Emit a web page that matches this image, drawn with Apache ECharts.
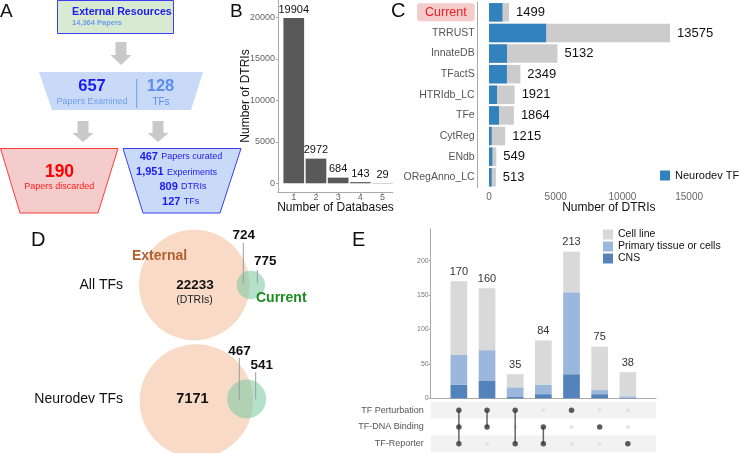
<!DOCTYPE html>
<html><head><meta charset="utf-8">
<script src="https://cdn.jsdelivr.net/npm/echarts@6/dist/echarts.min.js"></script>
<style>html,body{margin:0;padding:0;background:#fff}#c{width:740px;height:453px}</style>
</head><body><div id="c"></div>
<script>
// ---------- Panel A (flow) ----------
const flowSource = ['External Resources', '14,364 Papers'];
const examined = ['657', 'Papers Examined', '128', 'TFs'];
const discarded = ['190', 'Papers discarded'];
const curatedNums = ['467', '1,951', '809', '127'];
const curatedText = ['Papers curated', 'Experiments', 'DTRIs', 'TFs'];
// ---------- Panel B ----------
const dbCounts = [1, 2, 3, 4, 5];
const dbDTRIs = [19904, 2972, 684, 143, 29];
const bTicks = [0, 5000, 10000, 15000, 20000];
// ---------- Panel C ----------
const dbNames = ['Current', 'TRRUST', 'InnateDB', 'TFactS', 'HTRIdb_LC', 'TFe', 'CytReg', 'ENdb', 'ORegAnno_LC'];
const dbTotal = [1499, 13575, 5132, 2349, 1921, 1864, 1215, 549, 513];
const dbNeuro = [1008, 4280, 1350, 1340, 600, 750, 200, 250, 200];
const cTicks = [0, 5000, 10000, 15000];
// ---------- Panel D ----------
const vennRows = ['All TFs', 'Neurodev TFs'];
const vennExternal = ['22233', '7171'];
const vennOverlap = ['724', '467'];
const vennCurrentOnly = ['775', '541'];
// ---------- Panel E ----------
const evidenceSets = ['TF Perturbation', 'TF-DNA Binding', 'TF-Reporter'];
const comboNames = ['P+D+R', 'P+D', 'P+R', 'D+R', 'P', 'D', 'R'];
const combos = [[0, 1, 2], [0, 1], [0, 2], [1, 2], [0], [1], [2]];
const comboTotals = [170, 160, 35, 84, 213, 75, 38];
const cns = [20, 26, 2, 6, 35, 6, 1];
const primary = [43, 44, 14, 14, 119, 6, 2];
const cellLine = [107, 90, 19, 64, 59, 63, 35];
const eTicks = [0, 50, 100, 150, 200];

const FF = '"Liberation Sans", Arial, Helvetica, sans-serif';
function txt(x, y, text, size, color, opts) {
  opts = opts || {};
  return {
    type: 'text', silent: true, z: 10,
    style: {
      x: x, y: y, text: text, fill: color,
      font: (opts.bold ? 'bold ' : '') + size + 'px ' + FF,
      align: opts.align || 'center', verticalAlign: 'middle',
      textAlign: opts.align || 'center', textVerticalAlign: 'middle'
    }
  };
}
function arrow(cx, y0, y1, yh) {
  return {
    type: 'polygon', silent: true,
    shape: { points: [[cx - 5.5, y0], [cx + 5.5, y0], [cx + 5.5, yh], [cx + 10.5, yh], [cx, y1], [cx - 10.5, yh], [cx - 5.5, yh]] },
    style: { fill: '#c9c9c9' }
  };
}
function richLine(x, y, num, label) {
  return {
    type: 'text', silent: true, z: 10,
    style: {
      x: x, y: y, text: '{b|' + num + '} {n|' + label + '}',
      align: 'center', verticalAlign: 'middle', textAlign: 'center', textVerticalAlign: 'middle',
      rich: {
        b: { fontWeight: 'bold', fontSize: 11, fontFamily: FF, fill: '#1c1cf0', color: '#1c1cf0' },
        n: { fontSize: 9, fontFamily: FF, fill: '#1c1cf0', color: '#1c1cf0' }
      }
    }
  };
}

const graphics = [
  txt(0, 12, 'A', 19, '#111', { align: 'left' }),
  txt(230, 12, 'B', 19, '#111', { align: 'left' }),
  txt(391, 11, 'C', 20, '#111', { align: 'left' }),
  txt(31, 240, 'D', 20, '#111', { align: 'left' }),
  txt(352, 240, 'E', 20, '#111', { align: 'left' }),
  // Panel A
  { type: 'rect', silent: true, shape: { x: 57.5, y: 0.5, width: 116, height: 33 }, style: { fill: '#d9ead3', stroke: '#3c3cf5', lineWidth: 1 } },
  txt(72, 12.5, flowSource[0], 10.7, '#1c1cf0', { bold: true, align: 'left' }),
  txt(72, 22.8, flowSource[1], 7.5, '#6d9eeb', { bold: true, align: 'left' }),
  arrow(121, 42, 65, 55),
  { type: 'polygon', silent: true, shape: { points: [[39, 72], [203, 72], [191, 110], [52, 110]] }, style: { fill: '#c9daf8' } },
  txt(92, 86, examined[0], 16.5, '#1c1cf0', { bold: true }),
  txt(92, 101.7, examined[1], 9, '#6d9eeb'),
  { type: 'line', silent: true, shape: { x1: 136.7, y1: 79, x2: 136.7, y2: 108 }, style: { stroke: '#6d9eeb', lineWidth: 1 } },
  txt(160.5, 86, examined[2], 16.5, '#5b8def', { bold: true }),
  txt(161, 102, examined[3], 10, '#5b8def'),
  arrow(83, 121, 142, 133),
  arrow(158, 121, 142, 133),
  { type: 'polygon', silent: true, shape: { points: [[0.5, 148.5], [118, 148.5], [98, 213], [20, 213]] }, style: { fill: '#f4cccc', stroke: '#ff3b3b', lineWidth: 1 } },
  txt(59.5, 171.7, discarded[0], 17.5, '#ff0000', { bold: true }),
  txt(59.2, 187, discarded[1], 9, '#ff2020'),
  { type: 'polygon', silent: true, shape: { points: [[123, 148.5], [241, 148.5], [220, 213], [143, 213]] }, style: { fill: '#c9daf8', stroke: '#3c3cf5', lineWidth: 1 } },
  richLine(181, 157, curatedNums[0], curatedText[0]),
  richLine(176.5, 172.3, curatedNums[1], curatedText[1]),
  richLine(183, 187, curatedNums[2], curatedText[2]),
  richLine(180.7, 201.7, curatedNums[3], curatedText[3]),
  // Panel D
  { type: 'circle', silent: true, shape: { cx: 194.3, cy: 285, r: 55.3 }, style: { fill: '#f9dac7' } },
  { type: 'circle', silent: true, shape: { cx: 250.8, cy: 285, r: 14.2 }, style: { fill: 'rgba(120,200,160,0.55)' } },
  { type: 'circle', silent: true, shape: { cx: 196.3, cy: 401, r: 56.7 }, style: { fill: '#f9dac7' } },
  { type: 'circle', silent: true, shape: { cx: 246.7, cy: 399, r: 19.5 }, style: { fill: 'rgba(120,200,160,0.55)' } },
  txt(123, 285, vennRows[0], 14, '#111', { align: 'right' }),
  txt(123, 399, vennRows[1], 14, '#111', { align: 'right' }),
  txt(159.5, 256, 'External', 14, '#b0602e', { bold: true }),
  txt(256, 298, 'Current', 14, '#1e8b1e', { bold: true, align: 'left' }),
  txt(195, 285, vennExternal[0], 13.5, '#111', { bold: true }),
  txt(194.5, 300, '(DTRIs)', 10.5, '#222'),
  txt(192.5, 399, vennExternal[1], 14.5, '#111', { bold: true }),
  { type: 'line', silent: true, shape: { x1: 243.3, y1: 243, x2: 243.3, y2: 283.3 }, style: { stroke: '#9a9a9a', lineWidth: 1 } },
  { type: 'line', silent: true, shape: { x1: 257.3, y1: 270, x2: 257.3, y2: 283.3 }, style: { stroke: '#9a9a9a', lineWidth: 1 } },
  { type: 'line', silent: true, shape: { x1: 239.3, y1: 358, x2: 239.3, y2: 400 }, style: { stroke: '#9a9a9a', lineWidth: 1 } },
  { type: 'line', silent: true, shape: { x1: 255.7, y1: 372, x2: 255.7, y2: 399.3 }, style: { stroke: '#9a9a9a', lineWidth: 1 } },
  txt(243.7, 235.7, vennOverlap[0], 13.5, '#111', { bold: true }),
  txt(265.3, 261.7, vennCurrentOnly[0], 13.5, '#111', { bold: true }),
  txt(239.5, 351, vennOverlap[1], 13.5, '#111', { bold: true }),
  txt(261.7, 365.7, vennCurrentOnly[1], 13.5, '#111', { bold: true })
];

// Panel E matrix data
const dotsOn = [], dotsOff = [];
combos.forEach((c, i) => {
  evidenceSets.forEach((s, j) => {
    if (c.indexOf(j) >= 0) dotsOn.push([i, j]); else dotsOff.push([i, j]);
  });
});
const comboLines = [];
combos.forEach((c, i) => {
  if (c.length > 1) comboLines.push({
    type: 'line', xAxisIndex: 3, yAxisIndex: 3, symbol: 'none', silent: true, z: 3,
    lineStyle: { color: '#666', width: 1.5 },
    data: [[i, Math.min.apply(null, c)], [i, Math.max.apply(null, c)]]
  });
});
const eCats = [''].concat(comboNames, ['']);

const gray = '#aaa';
const plain = v => String(v);
const option = {
  animation: false,
  textStyle: { fontFamily: FF },
  graphic: graphics,
  legend: [
    {
      data: ['Neurodev TF'], left: 660, top: 170, icon: 'rect', itemWidth: 10, itemHeight: 10, padding: 0,
      textStyle: { fontSize: 11, color: '#111' }
    },
    {
      data: ['Cell line', 'Primary tissue or cells', 'CNS'], orient: 'vertical', left: 603, top: 229,
      icon: 'rect', itemWidth: 10, itemHeight: 10, itemGap: 1, padding: 0,
      textStyle: { fontSize: 10.5, color: '#111' }
    }
  ],
  grid: [
    { left: 278, top: 0, width: 115, height: 192 },
    { left: 477.7, top: 2, width: 262.3, height: 185.6 },
    { left: 430.7, top: 229, width: 225.3, height: 169.3 },
    { left: 430.7, top: 401.7, width: 225.3, height: 50.6 }
  ],
  xAxis: [
    {
      type: 'value', gridIndex: 0, min: 0.29, max: 5.47,
      axisLine: { onZero: false, lineStyle: { color: gray } },
      axisTick: { customValues: dbCounts, length: 3, lineStyle: { color: gray } },
      axisLabel: { customValues: dbCounts, fontSize: 9, color: '#666', margin: 1.5, formatter: plain },
      splitLine: { show: false },
      name: 'Number of Databases', nameLocation: 'middle', nameGap: 10, nameMoveOverlap: false,
      nameTextStyle: { fontSize: 12, color: '#111', verticalAlign: 'top' }
    },
    {
      type: 'value', gridIndex: 1, min: -848, max: 18815, offset: 2.4,
      axisLine: { onZero: false, lineStyle: { color: gray } },
      axisTick: { customValues: cTicks, length: 3, lineStyle: { color: gray } },
      axisLabel: { customValues: cTicks, fontSize: 10, color: '#666', margin: 2, formatter: plain },
      splitLine: { show: false },
      name: 'Number of DTRIs', nameLocation: 'middle', nameGap: 12, nameMoveOverlap: false,
      nameTextStyle: { fontSize: 12, color: '#111', verticalAlign: 'top' }
    },
    {
      type: 'category', gridIndex: 2, data: eCats, boundaryGap: false,
      axisLine: { onZero: false, lineStyle: { color: gray } },
      axisTick: { show: false }, axisLabel: { show: false }, splitLine: { show: false }
    },
    {
      type: 'value', gridIndex: 3, min: -1, max: 7, show: false,
      axisLine: { onZero: false }, splitLine: { show: false }
    }
  ],
  yAxis: [
    {
      type: 'value', gridIndex: 0, min: -1048, max: 22084,
      axisLine: { show: true, onZero: false, lineStyle: { color: gray } },
      axisTick: { show: true, customValues: bTicks, length: 2, lineStyle: { color: gray } },
      axisLabel: { customValues: bTicks, fontSize: 9, color: '#666', margin: 3, formatter: plain },
      splitLine: { show: false },
      name: 'Number of DTRIs', nameLocation: 'middle', nameRotate: 90, nameGap: 26, nameMoveOverlap: false,
      nameTextStyle: { fontSize: 12, color: '#111' }
    },
    {
      type: 'category', gridIndex: 1, data: dbNames, inverse: true,
      axisLine: { show: true, onZero: false, lineStyle: { color: gray } },
      axisTick: { show: false },
      axisLabel: {
        fontSize: 10.5, color: '#555', margin: 3,
        formatter: v => v === dbNames[0] ? '{cur|' + v + '}' : v,
        rich: { cur: { backgroundColor: '#f4cccc', color: '#ee1c25', fontSize: 12.5, padding: [3, 8, 2, 8], borderRadius: 3 } }
      }
    },
    {
      type: 'value', gridIndex: 2, min: 0, max: 246,
      axisLine: { show: true, onZero: false, lineStyle: { color: gray } },
      axisTick: { show: true, customValues: eTicks, length: 2, lineStyle: { color: gray } },
      axisLabel: { customValues: eTicks, fontSize: 7, color: '#777', margin: 2, formatter: plain },
      splitLine: { show: false }
    },
    {
      type: 'category', gridIndex: 3, data: evidenceSets, inverse: true,
      axisLine: { show: false }, axisTick: { show: false },
      axisLabel: { fontSize: 9, color: '#555', margin: 7 },
      splitArea: { show: true, areaStyle: { color: ['#f2f2f2', '#ffffff'] } },
      splitLine: { show: false }
    }
  ],
  series: [
    {
      type: 'bar', xAxisIndex: 0, yAxisIndex: 0, barWidth: 20.7,
      itemStyle: { color: '#595959' },
      label: { show: true, position: 'top', distance: 3, fontSize: 11, color: '#111', formatter: p => dbDTRIs[p.dataIndex] },
      data: dbDTRIs.map((v, i) => [dbCounts[i], v])
    },
    {
      name: 'Total', type: 'bar', xAxisIndex: 1, yAxisIndex: 1, barWidth: 18.5,
      itemStyle: { color: '#cccccc' },
      label: { show: true, position: 'right', distance: 7, fontSize: 13, color: '#111' },
      data: dbTotal
    },
    {
      name: 'Neurodev TF', type: 'bar', xAxisIndex: 1, yAxisIndex: 1, barWidth: 18.5, barGap: '-100%',
      itemStyle: { color: '#3182bd' },
      data: dbNeuro
    },
    {
      name: 'CNS', type: 'bar', stack: 'e', xAxisIndex: 2, yAxisIndex: 2, barWidth: 16.7,
      itemStyle: { color: '#5483bb' },
      data: cns.map((v, i) => [i + 1, v])
    },
    {
      name: 'Primary tissue or cells', type: 'bar', stack: 'e', xAxisIndex: 2, yAxisIndex: 2, barWidth: 16.7,
      itemStyle: { color: '#9bb8dc' },
      data: primary.map((v, i) => [i + 1, v])
    },
    {
      name: 'Cell line', type: 'bar', stack: 'e', xAxisIndex: 2, yAxisIndex: 2, barWidth: 16.7,
      itemStyle: { color: '#d9d9d9' },
      label: { show: true, position: 'top', distance: 4, fontSize: 11, color: '#333', formatter: p => comboTotals[p.dataIndex] },
      data: cellLine.map((v, i) => [i + 1, v])
    },
    {
      type: 'scatter', xAxisIndex: 3, yAxisIndex: 3, symbolSize: 4, silent: true, z: 2,
      itemStyle: { color: '#dedede' }, data: dotsOff
    },
    {
      type: 'scatter', xAxisIndex: 3, yAxisIndex: 3, symbolSize: 5.5, silent: true, z: 4,
      itemStyle: { color: '#333' }, data: dotsOn
    }
  ].concat(comboLines)
};
const chart = echarts.init(document.getElementById('c'), null, { renderer: 'canvas' });
chart.setOption(option);
</script></body></html>
